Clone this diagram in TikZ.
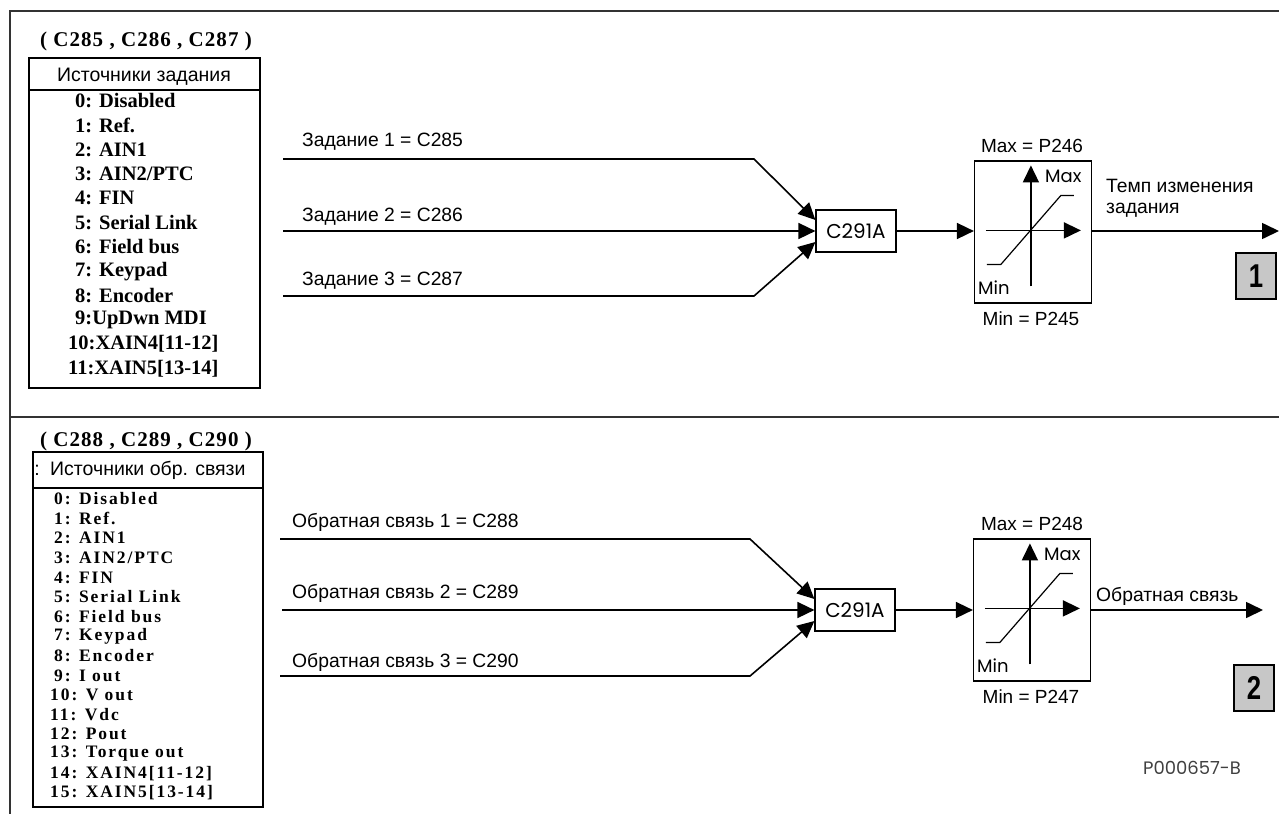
\documentclass[tikz,border=0pt]{standalone}
\usepackage{fontspec}
\setmainfont{Liberation Serif}
\newfontfamily\arial{Liberation Sans}
\newfontfamily\gothic{Poppins}
\newfontfamily\tmhd[LetterSpace=5]{Liberation Serif}
\newfontfamily\tmsp[LetterSpace=11]{Liberation Serif}
\usetikzlibrary{arrows.meta}
\begin{document}
\begin{tikzpicture}[x=1pt,y=-1pt,
  frame/.style={line width=1.8pt,draw=black!80},
  big/.style={line width=1.6pt,-{Triangle[length=17pt,width=16pt]}},
  lbl/.style={font=\arial\fontsize{19.3}{22}\selectfont,anchor=west,inner sep=0pt},
  captxt/.style={font=\arial\fontsize{19}{22}\selectfont,inner sep=0pt},
  hdr/.style={font=\tmhd\bfseries\fontsize{21}{22}\selectfont,inner sep=0pt},
  ttl/.style={font=\arial\fontsize{19.5}{22}\selectfont,inner sep=0pt},
  itemA/.style={font=\bfseries\fontsize{20.5}{22}\selectfont,anchor=west,inner sep=0pt},
  itemB/.style={font=\tmsp\bfseries\fontsize{17.5}{18}\selectfont,anchor=west,inner sep=0pt},
  listbox/.style={draw,line width=1.2pt,inner sep=0pt},
  cbox/.style={draw,line width=1.2pt,minimum width=80pt,minimum height=42pt,inner sep=0pt,font=\gothic\fontsize{20}{22}\selectfont},
  limbox/.style={draw,line width=1.2pt,minimum width=117pt,minimum height=142pt,inner sep=0pt},
  gtxt/.style={font=\gothic\fontsize{18}{20}\selectfont,inner sep=0pt},
  numbox/.style={draw,line width=1.2pt,fill=black!22,minimum width=40pt,minimum height=46pt,inner sep=0pt,font=\arial\bfseries\fontsize{33}{34}\selectfont}
]
\useasboundingbox (0,0) rectangle (1279,814);
% frame
\draw[frame] (1279,11) -- (10,11) -- (10,814);
\draw[frame] (10,417) -- (1279,417);

%%%%%%%%%%%%%%%% TOP %%%%%%%%%%%%%%%%
\node[hdr] (thdr) at (146,41) {( C285 , C286 , C287 )};
\node[listbox,minimum width=231pt,minimum height=330pt] (tbox) at (144.5,223) {};
\draw[line width=1.2pt] (tbox.west |- 0,90) -- (tbox.east |- 0,90);
\node[ttl] (ttitle) at (144,77) {Источники задания};
\foreach \t [count=\i from 0] in {0: Disabled,1: Ref.,2: AIN1,3: AIN2/PTC,4: FIN,5: Serial Link,6: Field bus,7: Keypad,8: Encoder,9:UpDwn MDI}
  \node[itemA] (ta\i) at (75,101+24.3*\i) {\t};
\node[itemA] (ta10) at (68,101+24.3*10) {10:XAIN4[11-12]};
\node[itemA] (ta11) at (68,101+24.3*11) {11:XAIN5[13-14]};

\coordinate (a1) at (283,159); \coordinate (b1) at (754,159);
\coordinate (a2) at (283,231);
\coordinate (a3) at (283,296); \coordinate (b3) at (754,296);
\node[lbl] (l1) at (302,142) {Задание 1 = C285};
\node[lbl] (l2) at (302,217) {Задание 2 = C286};
\node[lbl] (l3) at (302,281) {Задание 3 = C287};
\node[cbox] (ct) at (856,231) {C291A};
\draw[big] (a1) -- (b1) -- ([yshift=11pt]ct.west);
\draw[big] (a2) -- (ct.west);
\draw[big] (a3) -- (b3) -- ([yshift=-11pt]ct.west);

\node[limbox] (lt) at (1033,232) {};
\begin{scope}[shift={(lt.north west)}]
  \draw[big] (57,126) -- (57,5);
  \draw[big] (12,70) -- (107,70);
  \draw[line width=1.2pt] (13,104) -- (27,104) -- (87,35) -- (100,35);
  \node[gtxt,anchor=west] at (71,16) {Max};
  \node[gtxt,anchor=west] at (4,127) {Min};
\end{scope}
\node[captxt] (tmax) at (1032,146) {Max = P246};
\node[captxt] (tmin) at (1031,319) {Min = P245};
\draw[big] (ct.east) -- (ct.east -| lt.west);
\coordinate (o1) at (1279,231);
\draw[big] (ct.east -| lt.east) -- (o1);
\node[lbl,anchor=north west,align=left] (tout) at (1106,179) {Темп изменения\\[-1pt]задания};
\node[numbox] (n1) at (1256,276) {\scalebox{0.78}[1]{1}};

%%%%%%%%%%%%%%%% BOTTOM %%%%%%%%%%%%%%%%
\node[hdr] (bhdr) at (146,441) {( C288 , C289 , C290 )};
\node[listbox,minimum width=230pt,minimum height=355pt] (bbox) at (148,629.5) {};
\draw[line width=1.2pt] (bbox.west |- 0,488) -- (bbox.east |- 0,488);
\node[ttl,anchor=west] (btitle) at (50,470) {Источники обр. связи};
\node[ttl,anchor=east] (bcolon) at (40,470) {:};
\foreach \t [count=\i from 0] in {0: Disabled,1: Ref.,2: AIN1,3: AIN2/PTC,4: FIN,5: Serial Link,6: Field bus,7: Keypad,8: Encoder,9: I out}
  \node[itemB] (ba\i) at (54,499+19.6*\i) {\t};
\foreach \t [count=\i from 10] in {10: V out,11: Vdc,12: Pout,13: Torque out,14: XAIN4[11-12],15: XAIN5[13-14]}
  \node[itemB] (ba\i) at (50,499+19.6*\i) {\t};

\coordinate (c1) at (280,539); \coordinate (d1) at (750,539);
\coordinate (c2) at (282,610);
\coordinate (c3) at (280,676); \coordinate (d3) at (750,676);
\node[lbl] (m1) at (292,522) {Обратная связь 1 = C288};
\node[lbl] (m2) at (292,593) {Обратная связь 2 = C289};
\node[lbl] (m3) at (292,662) {Обратная связь 3 = C290};
\node[cbox] (cb) at (855,610) {C291A};
\draw[big] (c1) -- (d1) -- ([yshift=11pt]cb.west);
\draw[big] (c2) -- (cb.west);
\draw[big] (c3) -- (d3) -- ([yshift=-11pt]cb.west);

\node[limbox] (lb) at (1032,610) {};
\begin{scope}[shift={(lb.north west)}]
  \draw[big] (57,126) -- (57,5);
  \draw[big] (12,70) -- (107,70);
  \draw[line width=1.2pt] (13,104) -- (27,104) -- (87,35) -- (100,35);
  \node[gtxt,anchor=west] at (71,16) {Max};
  \node[gtxt,anchor=west] at (4,127) {Min};
\end{scope}
\node[captxt] (bmax) at (1032,524) {Max = P248};
\node[captxt] (bmin) at (1031,697) {Min = P247};
\draw[big] (cb.east) -- (lb.west);
\coordinate (o2) at (1263,610);
\draw[big] (lb.east) -- (o2);
\node[lbl] (bout) at (1096,596) {Обратная связь};
\node[numbox] (n2) at (1254,688) {\scalebox{0.78}[1]{2}};
\node[gtxt,text=black!75] (code) at (1192,768) {P000657-B};
\end{tikzpicture}
\end{document}
